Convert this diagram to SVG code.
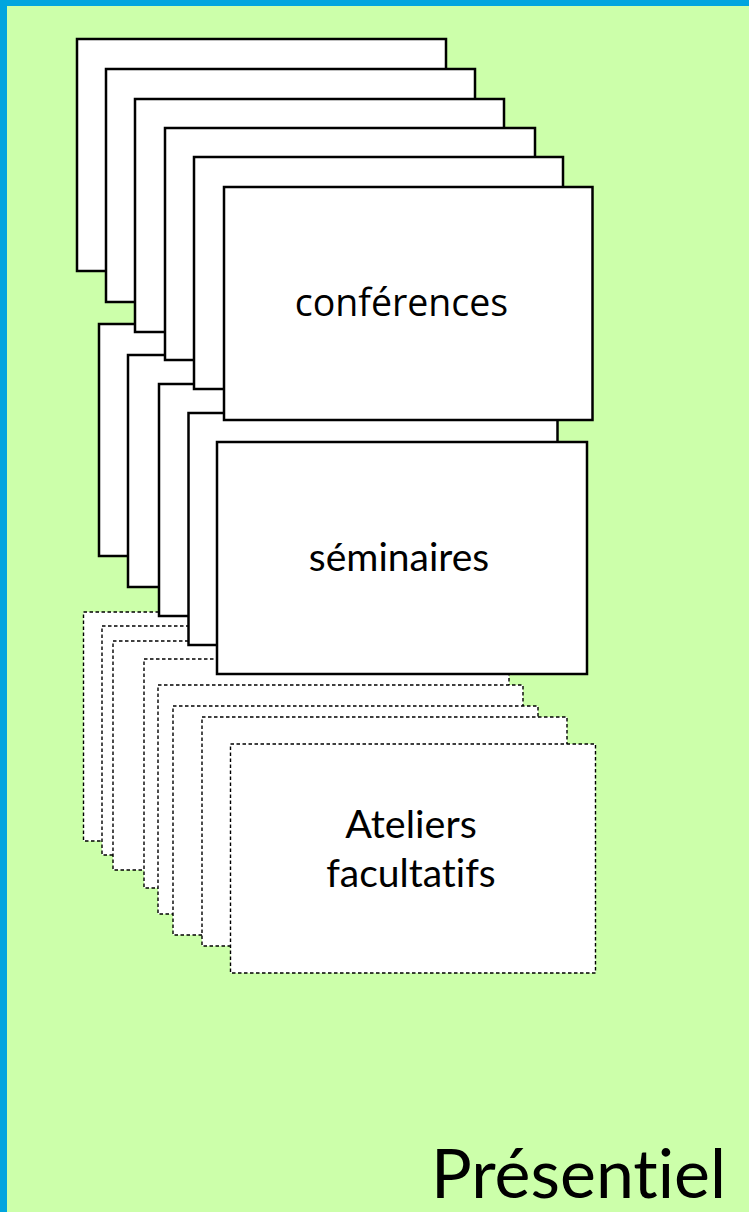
<svg xmlns="http://www.w3.org/2000/svg" width="749" height="1212" viewBox="0 0 749 1212">
<style>
text{font-variant-ligatures:none;font-feature-settings:"liga" 0}
.card{fill:#ffffff;stroke:#000000;stroke-width:2.5}
.opt{fill:#ffffff;stroke:#000000;stroke-width:1.4;stroke-dasharray:3.5 2.5}
.lbl{font-family:Lato,"Liberation Sans",sans-serif;fill:#000000;text-anchor:middle}
.conf{font-family:"Open Sans","Liberation Sans",sans-serif;fill:#000000;text-anchor:middle}
</style>
<rect x="0" y="0" width="749" height="1212" fill="#00A5DF"/>
<rect x="7" y="6" width="742" height="1206" fill="#CCFFAA"/>
<g id="ateliers">
<rect class="opt" x="83.5" y="612" width="365" height="229"/>
<rect class="opt" x="102" y="626" width="365" height="229"/>
<rect class="opt" x="113" y="641" width="365" height="229"/>
<rect class="opt" x="144" y="659" width="365" height="229"/>
<rect class="opt" x="158" y="685" width="365" height="229"/>
<rect class="opt" x="173" y="706" width="365" height="229"/>
<rect class="opt" x="202" y="717" width="365" height="229"/>
<rect class="opt" x="230.5" y="744" width="365" height="229"/>
<text class="lbl" x="411" y="838" font-size="39.5">Ateliers</text>
<text class="lbl" x="411" y="887" font-size="39">facultatifs</text>
</g>
<g id="seminaires">
<rect class="card" x="99" y="324" width="369" height="232"/>
<rect class="card" x="128" y="355" width="369" height="232"/>
<rect class="card" x="159" y="384" width="369" height="232"/>
<rect class="card" x="188.5" y="413" width="369" height="232"/>
<rect class="card" x="217" y="442" width="370" height="232"/>
<text class="lbl" x="399" y="571" font-size="39">séminaires</text>
</g>
<g id="conferences">
<rect class="card" x="77" y="39" width="369" height="232"/>
<rect class="card" x="106" y="69" width="369" height="233"/>
<rect class="card" x="135" y="99" width="369" height="233"/>
<rect class="card" x="165" y="128" width="370" height="232"/>
<rect class="card" x="194" y="157" width="369" height="232"/>
<rect class="card" x="224" y="187" width="368.5" height="233"/>
<text class="conf" x="401.5" y="316" font-size="37.5">conférences</text>
</g>
<g id="title">
<text x="726" y="1198" font-family="Lato,'Liberation Sans',sans-serif" font-size="68" text-anchor="end" fill="#000000">Présentiel</text>
</g>
<g id="connectors"/>
</svg>
